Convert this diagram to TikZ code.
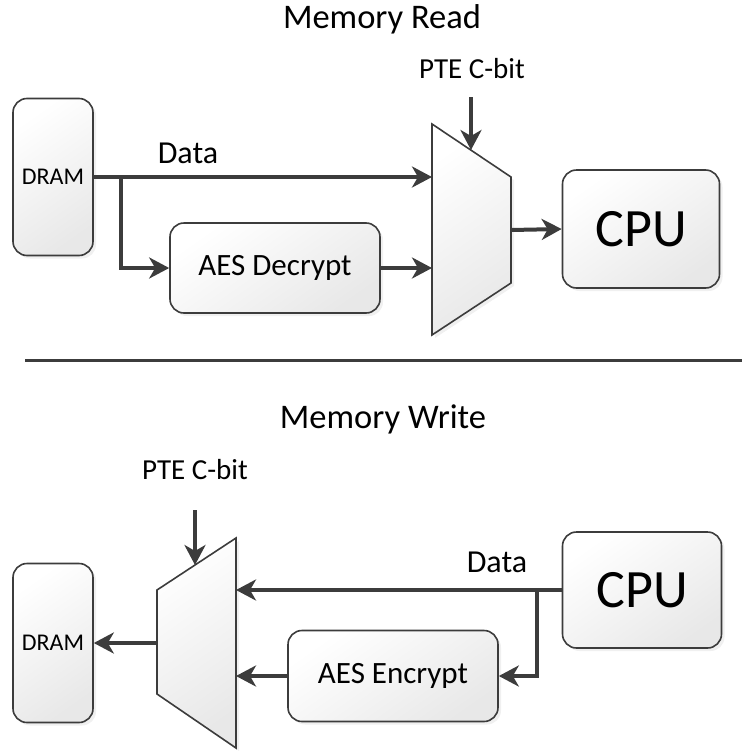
\documentclass[tikz,border=0pt]{standalone}
\usepackage{fontspec}
\setmainfont{Carlito}
\usetikzlibrary{positioning,arrows.meta,shadows}
\definecolor{linegray}{HTML}{3C3C3C}

\begin{document}
\begin{tikzpicture}[x=1pt, y=-1pt,
    blk/.style={draw=linegray, line width=1.6pt, rounded corners=14pt, inner sep=0pt,
        top color=white, bottom color=black!9, shading angle=35,
        drop shadow={opacity=0.12, shadow xshift=3pt, shadow yshift=-3pt}},
    muxbox/.style={draw=linegray, line width=1.6pt,
        top color=white, bottom color=black!9, shading angle=35,
        drop shadow={opacity=0.12, shadow xshift=3pt, shadow yshift=-3pt}},
    wire/.style={draw=linegray, line width=4pt,
        -{Stealth[length=20pt, width=21pt, inset=6pt]}},
    lbl/.style={anchor=base, inner sep=0pt, font=\fontsize{32}{38}\selectfont},
    ttl/.style={anchor=base, inner sep=0pt, font=\fontsize{34.5}{41}\selectfont},
    ptelbl/.style={anchor=base, inner sep=0pt, font=\fontsize{29}{35}\selectfont}]
    \useasboundingbox (0,0) rectangle (751,755);

    % memory read
    \node[ttl] (readT) at (382,28) {Memory Read};
    \node[blk, minimum width=80pt, minimum height=157pt,
        font=\fontsize{24}{29}\selectfont] (dramR) at (53,177) {DRAM};
    \node[blk, minimum width=210pt, minimum height=90pt,
        font=\fontsize{31}{37}\selectfont] (aesD) at (275,268) {AES Decrypt};
    \node[blk, minimum width=157pt, minimum height=118pt,
        font=\fontsize{54}{62}\selectfont] (cpuR) at (641,229) {CPU};
    \path[muxbox] (432,124) -- (511,177) -- (511,283) -- (432,335) -- cycle;
    \coordinate (muxR-in1) at (432,177);
    \coordinate (muxR-in2) at (432,268);
    \coordinate (muxR-out) at (511,230);
    \coordinate (muxR-sel) at (471,150);
    \node[ptelbl] (pteR) at (472,78) {PTE C-bit};
    \coordinate (selR) at (471,97);
    \node[lbl] (dataR) at (188,163) {Data};
    \coordinate (splitR) at (121,177);

    \draw[wire] (dramR.east) -- (muxR-in1);
    \draw[wire] (splitR) |- (aesD.west);
    \draw[wire] (aesD.east) -- (muxR-in2);
    \draw[wire] (muxR-out) -- (cpuR.west);
    \draw[wire] (selR) -- (muxR-sel);

    % separator
    \coordinate (sepL) at (25,360);
    \coordinate (sepR) at (742,360);
    \draw[draw=linegray, line width=3pt] (sepL) -- (sepR);

    % memory write
    \node[ttl] (writeT) at (383,428) {Memory Write};
    \node[blk, minimum width=80pt, minimum height=159pt,
        font=\fontsize{24}{29}\selectfont] (dramW) at (53,643) {DRAM};
    \node[blk, minimum width=210pt, minimum height=91pt,
        font=\fontsize{31}{37}\selectfont] (aesE) at (393,676) {AES Encrypt};
    \node[blk, minimum width=159pt, minimum height=116pt,
        font=\fontsize{54}{62}\selectfont] (cpuW) at (642,590) {CPU};
    \path[muxbox] (157,590) -- (236,538) -- (236,748) -- (157,694) -- cycle;
    \coordinate (muxW-in1) at (236,590);
    \coordinate (muxW-in2) at (236,676);
    \coordinate (muxW-out) at (157,643);
    \coordinate (muxW-sel) at (195,565);
    \node[ptelbl] (pteW) at (195,479) {PTE C-bit};
    \coordinate (selW) at (195,510);
    \node[lbl] (dataW) at (497,572) {Data};
    \coordinate (splitW) at (537,590);

    \draw[wire] (cpuW.west) -- (muxW-in1);
    \draw[wire] (splitW) |- (aesE.east);
    \draw[wire] (aesE.west) -- (muxW-in2);
    \draw[wire] (muxW-out) -- (dramW.east);
    \draw[wire] (selW) -- (muxW-sel);
\end{tikzpicture}
\end{document}
